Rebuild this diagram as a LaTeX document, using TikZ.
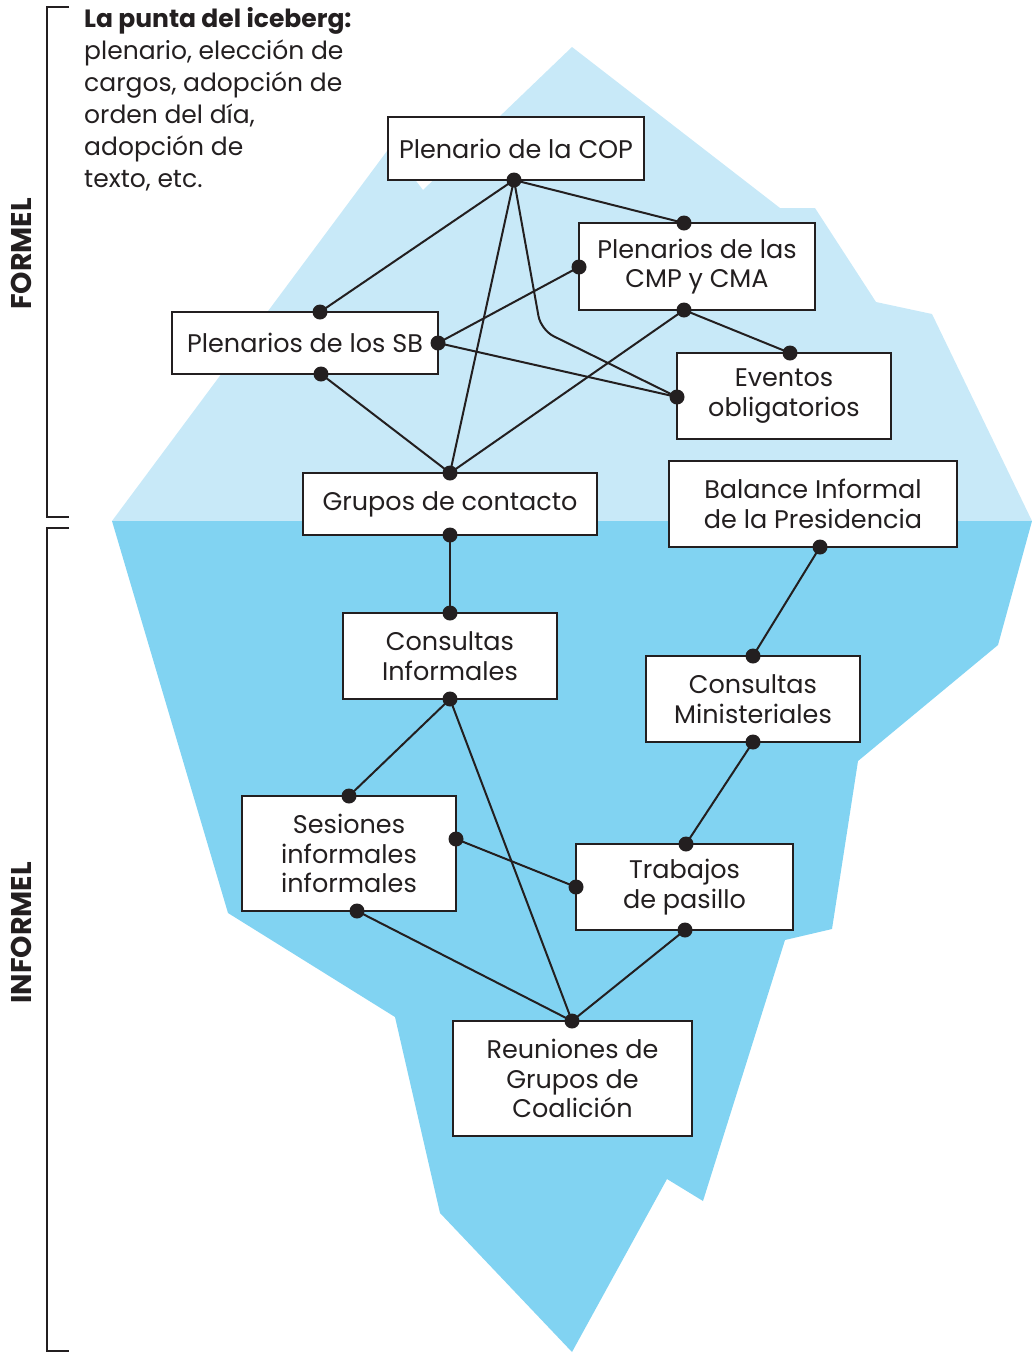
\documentclass[tikz,border=0pt]{standalone}
\usepackage{fontspec}
\setmainfont{Poppins}
\usetikzlibrary{calc}
\definecolor{icelight}{HTML}{C8E9F8}
\definecolor{icedark}{HTML}{81D3F2}
\definecolor{ink}{HTML}{231F20}
\begin{document}
\begin{tikzpicture}[x=1pt,y=-1pt,
  box/.style={draw=ink, line width=2pt, fill=white, align=center, inner sep=0pt, text=ink, font=\fontsize{25.5}{29.5}\selectfont},
  link/.style={draw=ink, line width=2pt},
  side/.style={rotate=90, text=ink, font=\bfseries\fontsize{28.5}{28.5}\selectfont},
  bracket/.style={draw=ink, line width=2pt}]
\useasboundingbox (0,0) rectangle (1032,1353);
% iceberg
\fill[icelight] (112,521) -- (390,147) -- (423,190) -- (572,47) -- (780,208) -- (815,208) -- (876,302) -- (932,314) -- (1032,521) -- cycle;
\fill[icedark] (112,521) -- (1032,521) -- (998,645) -- (858,761) -- (832,929) -- (785,940) -- (703,1201) -- (667,1179) -- (572,1352) -- (440,1213) -- (395,1017) -- (228,913) -- cycle;
% brackets
\draw[bracket] (69,7) -- (47,7) -- (47,517) -- (69,517);
\draw[bracket] (69,528) -- (47,528) -- (47,1351) -- (69,1351);
\node[side] (formel) at (21,254) {FORMEL};
\node[side] (informel) at (21,933) {INFORMEL};
% caption
\node[anchor=north west, align=left, inner sep=0pt, text=ink, font=\fontsize{25}{32}\selectfont] (tip) at (84,7)
  {\textbf{La punta del iceberg:}\\plenario, elección de\\cargos, adopción de\\orden del día,\\adopción de\\texto, etc.};
% boxes
\node[box, minimum width=256pt, minimum height=63pt] (cop) at (516,148.5) {Plenario de la COP};
\node[box, minimum width=236pt, minimum height=87pt] (cmp) at (697,266.5) {Plenarios de las\\CMP y CMA};
\node[box, minimum width=266pt, minimum height=62pt] (sb) at (305,343) {Plenarios de los SB};
\node[box, minimum width=214pt, minimum height=86pt] (ev) at (784,396) {Eventos\\obligatorios};
\node[box, minimum width=294pt, minimum height=62pt] (gr) at (450,504) {Grupos de contacto};
\node[box, minimum width=288pt, minimum height=86pt] (bal) at (813,504) {Balance Informal\\de la Presidencia};
\node[box, minimum width=214pt, minimum height=86pt] (ci) at (450,656) {Consultas\\Informales};
\node[box, minimum width=214pt, minimum height=86pt] (cm) at (753,699) {Consultas\\Ministeriales};
\node[box, minimum width=214pt, minimum height=115pt] (se) at (349,853.5) {Sesiones\\informales\\informales};
\node[box, minimum width=217pt, minimum height=86pt] (tr) at (684.5,887) {Trabajos\\de pasillo};
\node[box, minimum width=239pt, minimum height=115pt] (re) at (572.5,1078.5) {Reuniones de\\Grupos de\\Coalición};
% ports
\coordinate (copB) at (514,180);
\coordinate (cmpT) at (684,223);
\coordinate (cmpL) at (579,267);
\coordinate (cmpB) at (684,310);
\coordinate (sbT) at (320,312);
\coordinate (sbR) at (438,343);
\coordinate (sbB) at (321,374);
\coordinate (evT) at (790,353);
\coordinate (evL) at (677,397);
\coordinate (grT) at (450,473);
\coordinate (grB) at (450,535);
\coordinate (balB) at (820,547);
\coordinate (ciT) at (450,613);
\coordinate (ciB) at (450,699);
\coordinate (cmT) at (753,656);
\coordinate (cmB) at (753,742);
\coordinate (seT) at (349,796);
\coordinate (seR) at (456,839);
\coordinate (seB) at (357,911);
\coordinate (trT) at (686,844);
\coordinate (trL) at (576,887);
\coordinate (trB) at (685,930);
\coordinate (reT) at (572,1021);
\coordinate (bend) at (541,330);
% links
\draw[link] (copB) -- (sbT);
\draw[link] (copB) -- (cmpT);
\draw[link] (copB) -- (grT);
\draw[link, rounded corners=14pt] (copB) -- (bend) -- (evL);
\draw[link] (cmpL) -- (sbR);
\draw[link] (cmpB) -- (grT);
\draw[link] (cmpB) -- (evT);
\draw[link] (sbR) -- (evL);
\draw[link] (sbB) -- (grT);
\draw[link] (grB) -- (ciT);
\draw[link] (balB) -- (cmT);
\draw[link] (ciB) -- (seT);
\draw[link] (ciB) -- (reT);
\draw[link] (cmB) -- (trT);
\draw[link] (seR) -- (trL);
\draw[link] (seB) -- (reT);
\draw[link] (trB) -- (reT);
% dots
\foreach \p in {copB,cmpT,cmpL,cmpB,sbT,sbR,sbB,evT,evL,grT,grB,balB,ciT,ciB,cmT,cmB,seT,seR,seB,trT,trL,trB,reT}
  \fill[ink] (\p) circle (7.5pt);
\end{tikzpicture}
\end{document}
